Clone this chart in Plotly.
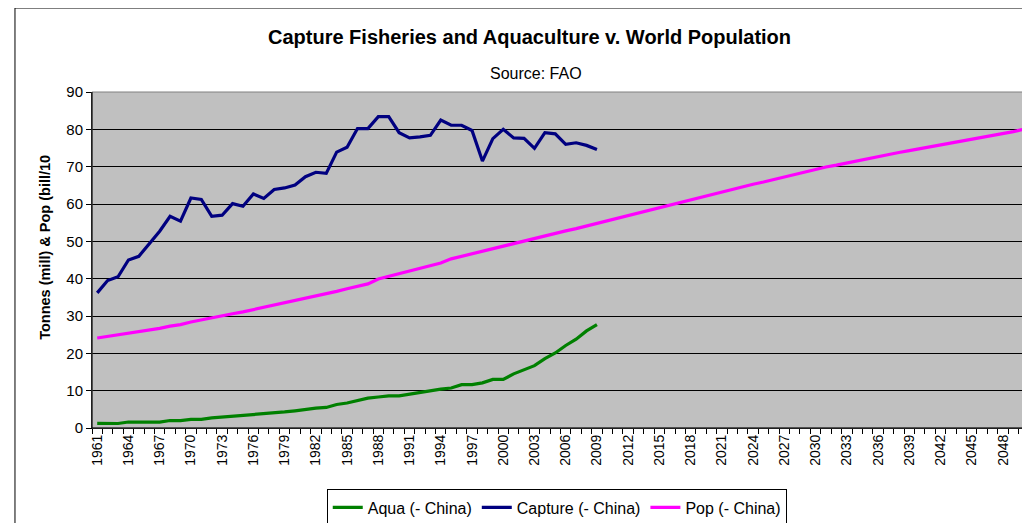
import plotly.graph_objects as go

years = list(range(1961, 2051))
capture_years = list(range(1961, 2010))

aqua = [1.25, 1.2, 1.2, 1.6, 1.6, 1.6, 1.6, 2.0, 2.0, 2.3,
        2.3, 2.7, 2.9, 3.2, 3.3, 3.6, 3.9, 4.0, 4.3, 4.6,
        5.0, 5.3, 5.5, 6.3, 6.7, 7.3, 8.0, 8.3, 8.6, 8.6,
        9.1, 9.6, 10.1, 10.4, 10.7, 11.6, 11.6, 12.1, 13.0, 13.0,
        14.5, 15.5, 16.7, 18.6, 20.1, 22.1, 23.8, 26.0, 27.7]

capture = [36.2, 39.5, 40.5, 45.0, 46.0, 49.2, 52.7, 56.7, 55.4, 61.6,
           61.2, 56.7, 57.0, 60.1, 59.4, 62.7, 61.5, 63.9, 64.3, 65.1,
           67.3, 68.5, 68.2, 73.9, 75.2, 80.2, 80.2, 83.4, 83.4, 79.1,
           77.7, 78.0, 78.4, 82.5, 81.1, 81.1, 79.7, 71.5, 77.5, 80.0,
           77.7, 77.6, 74.9, 79.1, 78.8, 76.0, 76.4, 75.7, 74.6]

pop = [24.1, 24.5, 24.9, 25.4, 25.8, 26.3, 26.7, 27.3, 27.7, 28.4,
       29.0, 29.4, 30.0, 30.6, 31.1, 31.7, 32.3, 32.9, 33.4, 34.1,
       34.7, 35.4, 36.0, 36.6, 37.3, 37.9, 38.6, 39.9, 40.6, 41.3,
       42.0, 42.7, 43.4, 44.2, 45.3, 46.0, 46.6, 47.3, 48.0, 48.8,
       49.4, 50.1, 50.7, 51.5, 52.1, 52.8, 53.4, 54.1, 54.8, 55.5,
       56.4, 57.1, 57.7, 58.5, 59.1, 59.8, 60.5, 61.3, 62.0, 62.6,
       63.3, 64.0, 64.6, 65.3, 65.9, 66.6, 67.3, 67.9, 68.6, 69.2,
       69.9, 70.4, 71.0, 71.6, 72.2, 72.8, 73.3, 73.8, 74.3, 74.8,
       75.4, 75.9, 76.4, 77.0, 77.5, 77.9, 78.4, 78.9, 79.4, 80.0]

tick_years = years[::3]
tick_labels = [str(y) for y in tick_years]

FONT = "Liberation Sans, Arial, sans-serif"

fig = go.Figure()
fig.add_trace(go.Scatter(x=capture_years, y=aqua, mode="lines", name="Aqua (- China)",
                         line=dict(color="#008000", width=3.2)))
fig.add_trace(go.Scatter(x=capture_years, y=capture, mode="lines", name="Capture (- China)",
                         line=dict(color="#000080", width=3.2)))
fig.add_trace(go.Scatter(x=years, y=pop, mode="lines", name="Pop (- China)",
                         line=dict(color="#FF00FF", width=3.2)))

fig.update_layout(
    width=1022, height=515,
    margin=dict(l=84, r=1, t=84, b=95, autoexpand=False),
    paper_bgcolor="white",
    plot_bgcolor="#C0C0C0",
    font=dict(family=FONT, size=15, color="black"),
    showlegend=True,
    legend=dict(orientation="h", x=0.496, xanchor="center", y=-0.183, yanchor="top",
                bordercolor="black", borderwidth=1, bgcolor="white",
                font=dict(size=16), itemwidth=30, tracegroupgap=0),
    xaxis=dict(range=[1960.5, 2050.5], tickmode="array", tickvals=tick_years,
               ticktext=tick_labels, tickangle=-90, ticks="outside", ticklen=0,
               showline=True, linecolor="black", linewidth=1, showgrid=False,
               zeroline=False, tickfont=dict(size=14),
               minor=dict(ticks="outside", ticklen=5, tickcolor="black",
                          dtick=1, tick0=1960.5, showgrid=False)),
    yaxis=dict(range=[0, 90], dtick=10, ticks="outside", ticklen=5, tickcolor="black",
               showline=True, linecolor="black", linewidth=1,
               showgrid=True, gridcolor="black", gridwidth=1, zeroline=False,
               tickfont=dict(size=15)),
    shapes=[
        dict(type="rect", xref="paper", yref="paper", x0=0, x1=1, y0=0, y1=1,
             line=dict(color="#808080", width=1), layer="above"),
        dict(type="line", xref="paper", yref="paper", x0=0, x1=0, y0=0, y1=1,
             line=dict(color="black", width=1), layer="above"),
        dict(type="line", xref="paper", yref="paper", x0=0, x1=1, y0=0, y1=0,
             line=dict(color="black", width=1), layer="above"),
        dict(type="rect", xref="paper", yref="paper", x0=-0.0822, x1=1.2, y0=-1.0, y1=1.25,
             line=dict(color="black", width=1), layer="below"),
    ],
    annotations=[
        dict(text="<b>Capture Fisheries and Aquaculture v. World Population</b>",
             xref="paper", yref="paper", x=0.4664, y=1.1637, xanchor="center", yanchor="middle",
             showarrow=False, font=dict(size=20)),
        dict(text="Source: FAO", xref="paper", yref="paper", x=0.474, y=1.0565,
             xanchor="center", yanchor="middle", showarrow=False, font=dict(size=16)),
        dict(text="<b>Tonnes (mill) & Pop (bill/10</b>", xref="paper", yref="paper",
             x=-0.0502, y=0.539, xanchor="center", yanchor="middle", textangle=-90,
             showarrow=False, font=dict(size=14.5)),
    ],
)

fig.write_html("out.html")
